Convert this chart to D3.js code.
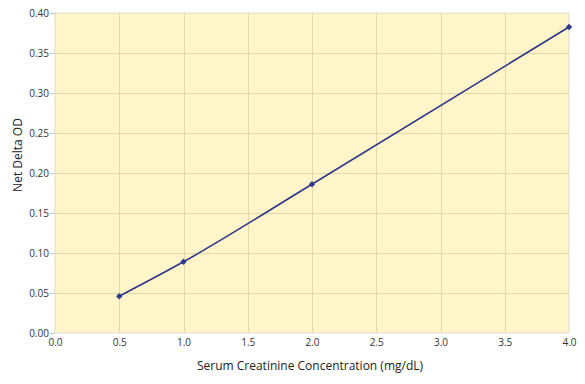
<!DOCTYPE html>
<html><head><meta charset="utf-8">
<script src="https://cdn.jsdelivr.net/npm/d3@7"></script>
<style>body{margin:0;background:#fff;font-family:"Open Sans",sans-serif}</style>
</head><body><svg id="c" width="585" height="384"></svg>
<script>
const concentrations = [0.5, 1.0, 2.0, 4.0];
const netDeltaOD = [0.046, 0.089, 0.186, 0.3825];
const xTicks = [0,0.5,1,1.5,2,2.5,3,3.5,4];
const yTicks = [0,0.05,0.1,0.15,0.2,0.25,0.3,0.35,0.4];

const svg = d3.select("#c");
const L=55,R=569,T=13,B=333;
const x = d3.scaleLinear().domain([0,4]).range([L,R]);
const y = d3.scaleLinear().domain([0,0.4]).range([B,T]);

svg.append("rect").attr("x",L).attr("y",T).attr("width",R-L).attr("height",B-T)
  .attr("fill","#fff5c9").attr("stroke","#dedbd0").attr("stroke-width",1);

svg.append("g").selectAll("line").data(xTicks.slice(1,-1)).join("line")
  .attr("x1",d=>Math.round(x(d))+0.5).attr("x2",d=>Math.round(x(d))+0.5).attr("y1",T).attr("y2",B)
  .attr("stroke","#e2d8ad").attr("stroke-width",1);
svg.append("g").selectAll("line").data(yTicks.slice(1,-1)).join("line")
  .attr("y1",d=>Math.round(y(d))+0.5).attr("y2",d=>Math.round(y(d))+0.5).attr("x1",L).attr("x2",R)
  .attr("stroke","#e2d8ad").attr("stroke-width",1);

const xa = svg.append("g").attr("transform",`translate(0,${B})`)
  .call(d3.axisBottom(x).tickValues(xTicks).tickFormat(d3.format(".1f")).tickSize(0).tickPadding(6));
const ya = svg.append("g").attr("transform",`translate(${L},0)`)
  .call(d3.axisLeft(y).tickValues(yTicks).tickFormat(d3.format(".2f")).tickSize(5).tickPadding(1));
[xa,ya].forEach(a=>{a.select(".domain").remove();a.selectAll("text").attr("font-family","Open Sans").attr("font-size",10).attr("fill","#333");});
ya.selectAll("line").attr("stroke","#c8c8c8");

svg.append("path").datum(concentrations.map((c,i)=>[c,netDeltaOD[i]]))
  .attr("d",d3.line().x(d=>x(d[0])).y(d=>y(d[1])).curve(d3.curveMonotoneX))
  .attr("fill","none").attr("stroke","#2e3688").attr("stroke-width",1.6);

svg.append("g").selectAll("path").data(concentrations.map((c,i)=>[c,netDeltaOD[i]])).join("path")
  .attr("transform",d=>`translate(${x(d[0])},${y(d[1])})`)
  .attr("d",d3.symbol(d3.symbolDiamond2,26)).attr("fill","#2e3a8e");

svg.append("text").attr("x",310).attr("y",370).attr("text-anchor","middle")
  .attr("font-size",12).attr("fill","#222").text("Serum Creatinine Concentration (mg/dL)");
svg.append("text").attr("transform",`translate(22,155) rotate(-90)`).attr("text-anchor","middle")
  .attr("font-size",12).attr("fill","#222").text("Net Delta OD");
</script></body></html>
